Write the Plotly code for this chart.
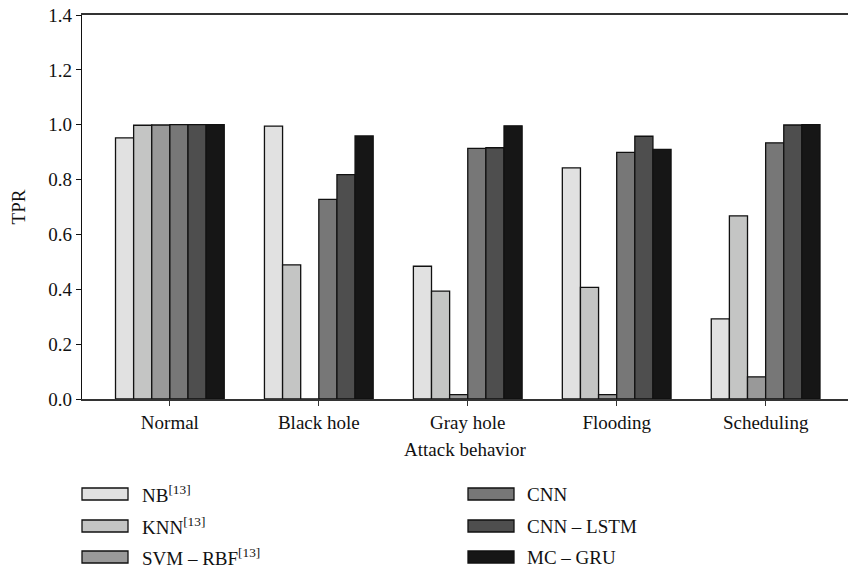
import plotly.graph_objects as go

# Attack categories on the x axis
categories = ["Normal", "Black hole", "Gray hole", "Flooding", "Scheduling"]

# True positive rate per model
nb = [0.952, 0.995, 0.484, 0.843, 0.292]
knn = [0.998, 0.489, 0.393, 0.407, 0.668]
svm_rbf = [0.999, 0.0, 0.016, 0.016, 0.081]
cnn = [1.0, 0.728, 0.914, 0.899, 0.934]
cnn_lstm = [1.0, 0.818, 0.916, 0.958, 0.999]
mc_gru = [1.0, 0.959, 0.996, 0.910, 1.0]

series_names = ["NB<sup>[13]</sup>", "KNN<sup>[13]</sup>", "SVM – RBF<sup>[13]</sup>",
                "CNN", "CNN – LSTM", "MC – GRU"]
series_values = [nb, knn, svm_rbf, cnn, cnn_lstm, mc_gru]
series_colors = ["#e1e1e1", "#c4c5c4", "#999999", "#777777", "#4e4e4e", "#161616"]

y_ticks = [0.0, 0.2, 0.4, 0.6, 0.8, 1.0, 1.2, 1.4]

FONT = "Liberation Serif, Times New Roman, serif"
W, H = 848, 572
L, R, T, B = 82, 0, 15, 173

fig = go.Figure()
for name, vals, col in zip(series_names, series_values, series_colors):
    fig.add_trace(go.Bar(
        x=categories, y=vals, name=name,
        marker=dict(color=col, line=dict(color="#111111", width=1.3)),
        showlegend=False,
    ))

# Two-column legend with wide swatches, placed under the axis title
plot_w = W - L - R
plot_h = H - T - B
def px_x(px):
    return (px - L) / plot_w
def px_y(py):
    return (H - B - py) / plot_h

col_swatch_left = [82, 468]
col_text_left = [140, 525]
row_centers = [494, 526, 557]
sw_w, sw_h = 46, 12

shapes = []
annotations = []
for i, (name, col) in enumerate(zip(series_names, series_colors)):
    c, r = divmod(i, 3)
    x0 = col_swatch_left[c]
    yc = row_centers[r]
    shapes.append(dict(
        type="rect", xref="paper", yref="paper",
        x0=px_x(x0), x1=px_x(x0 + sw_w),
        y0=px_y(yc + sw_h / 2), y1=px_y(yc - sw_h / 2),
        fillcolor=col, line=dict(color="#111111", width=1.3),
    ))
    annotations.append(dict(
        xref="paper", yref="paper", x=px_x(col_text_left[c]), y=px_y(yc),
        text=name, showarrow=False, xanchor="left", yanchor="middle",
        font=dict(family=FONT, size=19, color="#111111"),
    ))

fig.update_layout(
    width=W, height=H,
    margin=dict(l=L, r=R, t=T, b=B, autoexpand=False),
    paper_bgcolor="white", plot_bgcolor="white",
    barmode="group", bargap=0.27, bargroupgap=0,
    font=dict(family=FONT, size=19, color="#111111"),
    shapes=shapes, annotations=annotations,
    xaxis=dict(
        range=[-0.59, 4.553],
        showline=True, linecolor="#333333", linewidth=1.5, mirror=True,
        ticks="outside", ticklen=5, tickcolor="#333333", tickwidth=1,
        showgrid=False, zeroline=False,
        title=dict(text="Attack behavior", standoff=11,
                   font=dict(family=FONT, size=19)),
        tickfont=dict(family=FONT, size=19),
        automargin=False,
    ),
    yaxis=dict(
        range=[0, 1.4],
        tickvals=y_ticks, tickformat=".1f",
        showline=True, linecolor="#111111", linewidth=1.3,
        ticks="outside", ticklen=5, tickcolor="#111111", tickwidth=1,
        showgrid=False, zeroline=False,
        title=dict(text="TPR", standoff=17, font=dict(family=FONT, size=19)),
        tickfont=dict(family=FONT, size=19),
        automargin=False,
    ),
)

fig.write_html("out.html")
